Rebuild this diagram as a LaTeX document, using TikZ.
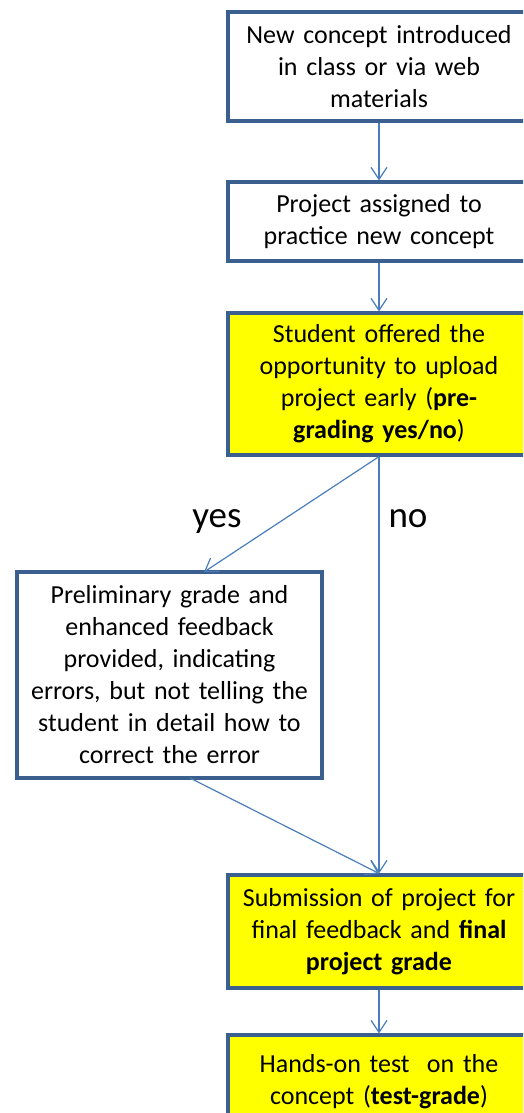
\documentclass[tikz,border=0pt]{standalone}
\usepackage{fontspec}
\setmainfont{Carlito}
\usetikzlibrary{arrows.meta}
\definecolor{boxline}{HTML}{3B5F8E}
\definecolor{arrowline}{HTML}{4A7EBB}
\definecolor{hilite}{HTML}{FFFF00}
\begin{document}
\begin{tikzpicture}[x=1pt,y=-1pt,
  box/.style={draw=boxline, line width=3.2pt, fill=white, align=center,
    text width=292pt, inner sep=0pt, minimum width=302pt,
    font=\fontsize{26}{32}\selectfont},
  hibox/.style={box, fill=hilite},
  conn/.style={draw=arrowline, line width=1.2pt,
    -{Straight Barb[length=12pt,width=16pt,line width=1.2pt]}},
  lbl/.style={font=\fontsize{37}{44}\selectfont, inner sep=0pt, anchor=base}]
\useasboundingbox (0,0) rectangle (523,1113);
\clip (0,0) rectangle (523,1113);
\node[box, minimum height=109pt] (n1) at (379,66.5)
  {New concept introduced\\in class or via web\\materials};
\node[box, minimum height=79pt] (n2) at (379,221.5)
  {Project assigned to\\practice new concept};
\node[hibox, minimum height=142pt] (n3) at (379,384)
  {Student offered the\\opportunity to upload\\project early (\textbf{pre-}\\\textbf{grading yes/no})};
\node[box, minimum height=206pt, minimum width=305pt] (n4) at (169.5,675)
  {Preliminary grade and\\enhanced feedback\\provided, indicating\\errors, but not telling the\\student in detail how to\\correct the error};
\node[hibox, minimum height=113pt] (n5) at (379,931.5)
  {Submission of project for\\final feedback and \textbf{final}\\\textbf{project grade}};
\node[hibox, minimum height=94pt] (n6) at (379,1082)
  {Hands-on test\ \ on the\\concept (\textbf{test-grade})};
\coordinate (yesend) at (204,572);
\coordinate (fromfour) at (190,778);
\draw[conn] (n1.south) -- (n2.north);
\draw[conn] (n2.south) -- (n3.north);
\draw[conn] (n3.south) -- (yesend);
\draw[conn] (n3.south) -- (n5.north);
\draw[conn] (fromfour) -- (n5.north);
\draw[conn] (n5.south) -- (n6.north);
\node[lbl] (yes) at (217,527) {yes};
\node[lbl] (no) at (408,527) {no};
\end{tikzpicture}
\end{document}
